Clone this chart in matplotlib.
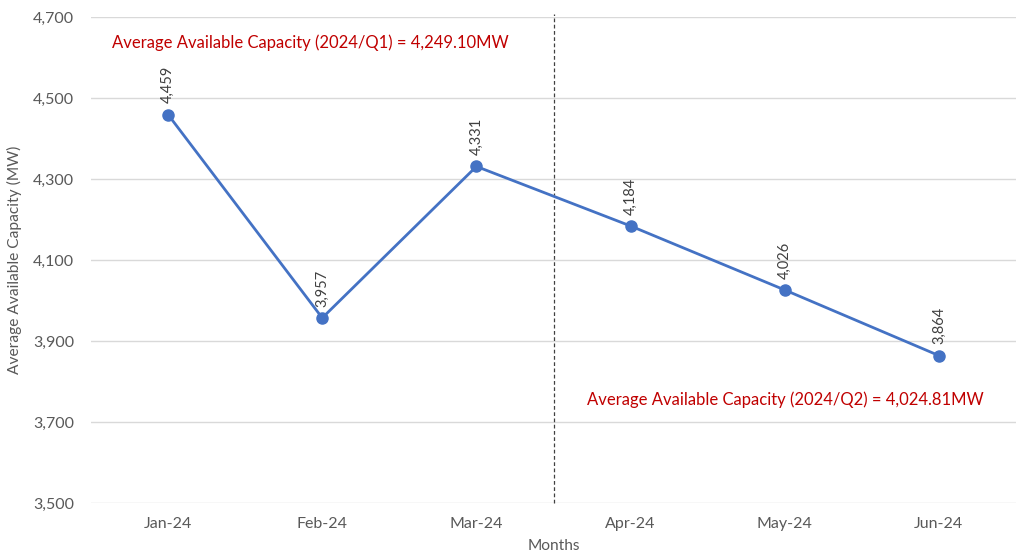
import matplotlib.pyplot as plt

months = ['Jan-24', 'Feb-24', 'Mar-24', 'Apr-24', 'May-24', 'Jun-24']
capacity = [4459, 3957, 4331, 4184, 4026, 3864]
yticks = [3500, 3700, 3900, 4100, 4300, 4500, 4700]
q1_note = 'Average Available Capacity (2024/Q1) = 4,249.10MW'
q2_note = 'Average Available Capacity (2024/Q2) = 4,024.81MW'

plt.rcParams['font.family'] = ['Lato', 'DejaVu Sans']

fig = plt.figure(figsize=(10.16, 5.6), dpi=100)
ax = fig.add_axes([91 / 1016, 57 / 560, 925 / 1016, 486 / 560])

x = list(range(len(months)))
ax.plot(x, capacity, color='#4472C4', linewidth=2, marker='o', markersize=8, zorder=3)
for xi, v in zip(x, capacity):
    ax.annotate(f'{v:,}', (xi, v), xytext=(0, 8), textcoords='offset points',
                rotation=90, ha='center', va='bottom', fontsize=10.5, color='#404040')

ax.axvline(2.5, ymin=0, ymax=1.006, color='#404040', linestyle=(0, (3, 2)), linewidth=0.9, clip_on=False)

ax.text(-0.364, 4636, q1_note, color='#C00000', fontsize=12, va='center', ha='left')
ax.text(2.72, 3754, q2_note, color='#C00000', fontsize=12, va='center', ha='left')

ax.set_xlim(-0.5, 5.5)
ax.set_ylim(3500, 4700)
ax.set_xticks(x)
ax.set_xticklabels(months)
ax.set_yticks(yticks)
ax.set_yticklabels([f'{t:,}' for t in yticks])
ax.tick_params(length=0, labelsize=11.5, colors='#595959')
ax.tick_params(axis='x', pad=10)
ax.tick_params(axis='y', pad=12)
ax.grid(axis='y', color='#d9d9d9', linewidth=1)
ax.set_axisbelow(True)
for s in ax.spines.values():
    s.set_visible(False)

ax.set_xlabel('Months', fontsize=11.2, color='#595959', labelpad=6)
ax.set_ylabel('Average Available Capacity (MW)', fontsize=11.2, color='#595959', labelpad=8)

fig.savefig('out.png', dpi=100)
